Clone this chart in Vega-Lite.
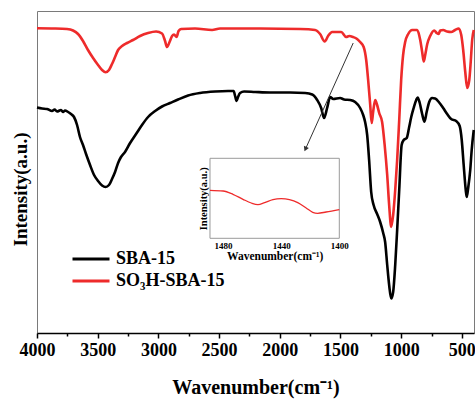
{
  "$schema": "https://vega.github.io/schema/vega-lite/v6.json",
  "width": 437,
  "height": 322,
  "autosize": "none",
  "padding": {"left": 37, "top": 11, "right": 1, "bottom": 67},
  "background": "white",
  "config": {
    "view": {"stroke": "#7a7a7a", "strokeWidth": 1},
    "font": "Liberation Serif",
    "axis": {"grid": false, "labelFont": "Liberation Serif", "titleFont": "Liberation Serif", "labelFontWeight": "bold", "titleFontWeight": "bold", "labelColor": "#000", "titleColor": "#000"},
    "legend": {"labelFont": "Liberation Serif"}
  },
  "datasets": {
    "spectra": [
      {"w":4000,"v":304.7,"s":"SO₃H-SBA-15"},{"w":3852,"v":304.5,"s":"SO₃H-SBA-15"},{"w":3753,"v":304,"s":"SO₃H-SBA-15"},{"w":3703,"v":302.5,"s":"SO₃H-SBA-15"},{"w":3662,"v":299,"s":"SO₃H-SBA-15"},{"w":3621,"v":292,"s":"SO₃H-SBA-15"},{"w":3580,"v":283,"s":"SO₃H-SBA-15"},{"w":3538,"v":275,"s":"SO₃H-SBA-15"},{"w":3497,"v":268,"s":"SO₃H-SBA-15"},{"w":3464,"v":263,"s":"SO₃H-SBA-15"},{"w":3435,"v":260.7,"s":"SO₃H-SBA-15"},{"w":3407,"v":263,"s":"SO₃H-SBA-15"},{"w":3382,"v":269,"s":"SO₃H-SBA-15"},{"w":3357,"v":276,"s":"SO₃H-SBA-15"},{"w":3332,"v":283,"s":"SO₃H-SBA-15"},{"w":3299,"v":287,"s":"SO₃H-SBA-15"},{"w":3258,"v":290,"s":"SO₃H-SBA-15"},{"w":3209,"v":293,"s":"SO₃H-SBA-15"},{"w":3151,"v":297,"s":"SO₃H-SBA-15"},{"w":3085,"v":300,"s":"SO₃H-SBA-15"},{"w":3019,"v":301.5,"s":"SO₃H-SBA-15"},{"w":2970,"v":299.5,"s":"SO₃H-SBA-15"},{"w":2945,"v":292,"s":"SO₃H-SBA-15"},{"w":2929,"v":286,"s":"SO₃H-SBA-15"},{"w":2908,"v":291,"s":"SO₃H-SBA-15"},{"w":2887,"v":297,"s":"SO₃H-SBA-15"},{"w":2871,"v":298.5,"s":"SO₃H-SBA-15"},{"w":2850,"v":296,"s":"SO₃H-SBA-15"},{"w":2834,"v":302,"s":"SO₃H-SBA-15"},{"w":2813,"v":304,"s":"SO₃H-SBA-15"},{"w":2698,"v":304.5,"s":"SO₃H-SBA-15"},{"w":2558,"v":303,"s":"SO₃H-SBA-15"},{"w":2492,"v":304.5,"s":"SO₃H-SBA-15"},{"w":2162,"v":304.5,"s":"SO₃H-SBA-15"},{"w":1832,"v":304,"s":"SO₃H-SBA-15"},{"w":1709,"v":303,"s":"SO₃H-SBA-15"},{"w":1668,"v":299,"s":"SO₃H-SBA-15"},{"w":1630,"v":291.5,"s":"SO₃H-SBA-15"},{"w":1602,"v":297,"s":"SO₃H-SBA-15"},{"w":1569,"v":301,"s":"SO₃H-SBA-15"},{"w":1494,"v":301,"s":"SO₃H-SBA-15"},{"w":1453,"v":296,"s":"SO₃H-SBA-15"},{"w":1428,"v":297,"s":"SO₃H-SBA-15"},{"w":1396,"v":296,"s":"SO₃H-SBA-15"},{"w":1363,"v":294,"s":"SO₃H-SBA-15"},{"w":1338,"v":291,"s":"SO₃H-SBA-15"},{"w":1309,"v":286,"s":"SO₃H-SBA-15"},{"w":1288,"v":273,"s":"SO₃H-SBA-15"},{"w":1272,"v":253,"s":"SO₃H-SBA-15"},{"w":1255,"v":228,"s":"SO₃H-SBA-15"},{"w":1243,"v":210,"s":"SO₃H-SBA-15"},{"w":1231,"v":221,"s":"SO₃H-SBA-15"},{"w":1214,"v":233,"s":"SO₃H-SBA-15"},{"w":1198,"v":228,"s":"SO₃H-SBA-15"},{"w":1181,"v":220,"s":"SO₃H-SBA-15"},{"w":1157,"v":211,"s":"SO₃H-SBA-15"},{"w":1136,"v":188,"s":"SO₃H-SBA-15"},{"w":1115,"v":158,"s":"SO₃H-SBA-15"},{"w":1099,"v":128,"s":"SO₃H-SBA-15"},{"w":1082,"v":106,"s":"SO₃H-SBA-15"},{"w":1066,"v":118,"s":"SO₃H-SBA-15"},{"w":1049,"v":143,"s":"SO₃H-SBA-15"},{"w":1033,"v":173,"s":"SO₃H-SBA-15"},{"w":1016,"v":213,"s":"SO₃H-SBA-15"},{"w":1000,"v":253,"s":"SO₃H-SBA-15"},{"w":984,"v":278,"s":"SO₃H-SBA-15"},{"w":967,"v":291,"s":"SO₃H-SBA-15"},{"w":942,"v":299,"s":"SO₃H-SBA-15"},{"w":909,"v":303,"s":"SO₃H-SBA-15"},{"w":868,"v":303,"s":"SO₃H-SBA-15"},{"w":843,"v":293,"s":"SO₃H-SBA-15"},{"w":827,"v":281,"s":"SO₃H-SBA-15"},{"w":814,"v":271.5,"s":"SO₃H-SBA-15"},{"w":802,"v":278,"s":"SO₃H-SBA-15"},{"w":785,"v":289,"s":"SO₃H-SBA-15"},{"w":761,"v":297,"s":"SO₃H-SBA-15"},{"w":728,"v":302.5,"s":"SO₃H-SBA-15"},{"w":707,"v":300,"s":"SO₃H-SBA-15"},{"w":692,"v":299,"s":"SO₃H-SBA-15"},{"w":678,"v":302.5,"s":"SO₃H-SBA-15"},{"w":654,"v":303,"s":"SO₃H-SBA-15"},{"w":621,"v":301.5,"s":"SO₃H-SBA-15"},{"w":588,"v":301,"s":"SO₃H-SBA-15"},{"w":555,"v":303,"s":"SO₃H-SBA-15"},{"w":526,"v":304.5,"s":"SO₃H-SBA-15"},{"w":505,"v":298,"s":"SO₃H-SBA-15"},{"w":489,"v":283,"s":"SO₃H-SBA-15"},{"w":472,"v":261,"s":"SO₃H-SBA-15"},{"w":456,"v":245,"s":"SO₃H-SBA-15"},{"w":439,"v":253,"s":"SO₃H-SBA-15"},{"w":427,"v":271,"s":"SO₃H-SBA-15"},{"w":415,"v":293,"s":"SO₃H-SBA-15"},{"w":402,"v":303,"s":"SO₃H-SBA-15"},
      {"w":4000,"v":225.5,"s":"SBA-15"},{"w":3959,"v":224.5,"s":"SBA-15"},{"w":3918,"v":224,"s":"SBA-15"},{"w":3876,"v":222,"s":"SBA-15"},{"w":3855,"v":223.5,"s":"SBA-15"},{"w":3835,"v":221.5,"s":"SBA-15"},{"w":3802,"v":223,"s":"SBA-15"},{"w":3785,"v":221,"s":"SBA-15"},{"w":3769,"v":222.5,"s":"SBA-15"},{"w":3744,"v":221,"s":"SBA-15"},{"w":3720,"v":219,"s":"SBA-15"},{"w":3695,"v":216,"s":"SBA-15"},{"w":3670,"v":208,"s":"SBA-15"},{"w":3646,"v":196,"s":"SBA-15"},{"w":3621,"v":188,"s":"SBA-15"},{"w":3596,"v":179,"s":"SBA-15"},{"w":3563,"v":168,"s":"SBA-15"},{"w":3530,"v":158,"s":"SBA-15"},{"w":3497,"v":152,"s":"SBA-15"},{"w":3464,"v":147.5,"s":"SBA-15"},{"w":3435,"v":146,"s":"SBA-15"},{"w":3407,"v":148,"s":"SBA-15"},{"w":3382,"v":154,"s":"SBA-15"},{"w":3357,"v":161,"s":"SBA-15"},{"w":3332,"v":170,"s":"SBA-15"},{"w":3308,"v":176,"s":"SBA-15"},{"w":3275,"v":181,"s":"SBA-15"},{"w":3233,"v":190,"s":"SBA-15"},{"w":3184,"v":199,"s":"SBA-15"},{"w":3135,"v":208,"s":"SBA-15"},{"w":3085,"v":216,"s":"SBA-15"},{"w":3027,"v":222,"s":"SBA-15"},{"w":2970,"v":226.5,"s":"SBA-15"},{"w":2904,"v":230,"s":"SBA-15"},{"w":2838,"v":233.5,"s":"SBA-15"},{"w":2755,"v":237.5,"s":"SBA-15"},{"w":2657,"v":240,"s":"SBA-15"},{"w":2533,"v":241.5,"s":"SBA-15"},{"w":2426,"v":242,"s":"SBA-15"},{"w":2380,"v":242,"s":"SBA-15"},{"w":2368,"v":237,"s":"SBA-15"},{"w":2356,"v":232,"s":"SBA-15"},{"w":2344,"v":236,"s":"SBA-15"},{"w":2327,"v":240,"s":"SBA-15"},{"w":2294,"v":241.5,"s":"SBA-15"},{"w":2203,"v":241,"s":"SBA-15"},{"w":2080,"v":240.5,"s":"SBA-15"},{"w":1915,"v":240.5,"s":"SBA-15"},{"w":1791,"v":240,"s":"SBA-15"},{"w":1733,"v":238.5,"s":"SBA-15"},{"w":1692,"v":233,"s":"SBA-15"},{"w":1659,"v":225,"s":"SBA-15"},{"w":1635,"v":215,"s":"SBA-15"},{"w":1610,"v":225,"s":"SBA-15"},{"w":1585,"v":236,"s":"SBA-15"},{"w":1560,"v":234,"s":"SBA-15"},{"w":1503,"v":235,"s":"SBA-15"},{"w":1470,"v":233.5,"s":"SBA-15"},{"w":1420,"v":233,"s":"SBA-15"},{"w":1379,"v":231,"s":"SBA-15"},{"w":1338,"v":225,"s":"SBA-15"},{"w":1313,"v":218,"s":"SBA-15"},{"w":1297,"v":211,"s":"SBA-15"},{"w":1280,"v":198,"s":"SBA-15"},{"w":1264,"v":173,"s":"SBA-15"},{"w":1247,"v":141,"s":"SBA-15"},{"w":1227,"v":128,"s":"SBA-15"},{"w":1198,"v":119,"s":"SBA-15"},{"w":1173,"v":111,"s":"SBA-15"},{"w":1148,"v":100,"s":"SBA-15"},{"w":1132,"v":91,"s":"SBA-15"},{"w":1115,"v":68,"s":"SBA-15"},{"w":1099,"v":48,"s":"SBA-15"},{"w":1082,"v":34.5,"s":"SBA-15"},{"w":1066,"v":41,"s":"SBA-15"},{"w":1049,"v":68,"s":"SBA-15"},{"w":1033,"v":103,"s":"SBA-15"},{"w":1016,"v":143,"s":"SBA-15"},{"w":996,"v":188,"s":"SBA-15"},{"w":979,"v":193,"s":"SBA-15"},{"w":954,"v":195,"s":"SBA-15"},{"w":934,"v":206,"s":"SBA-15"},{"w":917,"v":216,"s":"SBA-15"},{"w":897,"v":225,"s":"SBA-15"},{"w":876,"v":233,"s":"SBA-15"},{"w":864,"v":235.5,"s":"SBA-15"},{"w":847,"v":230,"s":"SBA-15"},{"w":827,"v":219,"s":"SBA-15"},{"w":808,"v":211.3,"s":"SBA-15"},{"w":790,"v":221,"s":"SBA-15"},{"w":769,"v":231,"s":"SBA-15"},{"w":745,"v":235,"s":"SBA-15"},{"w":720,"v":234.5,"s":"SBA-15"},{"w":687,"v":230.5,"s":"SBA-15"},{"w":654,"v":225,"s":"SBA-15"},{"w":621,"v":219,"s":"SBA-15"},{"w":588,"v":214,"s":"SBA-15"},{"w":547,"v":212,"s":"SBA-15"},{"w":518,"v":207,"s":"SBA-15"},{"w":501,"v":193,"s":"SBA-15"},{"w":485,"v":168,"s":"SBA-15"},{"w":468,"v":143,"s":"SBA-15"},{"w":460,"v":136,"s":"SBA-15"},{"w":448,"v":145,"s":"SBA-15"},{"w":431,"v":163,"s":"SBA-15"},{"w":419,"v":183,"s":"SBA-15"},{"w":402,"v":203,"s":"SBA-15"}
    ],
    "arrow": [{"w":1395,"v":290,"w2":1786,"v2":184.6}],
    "minor": [{"w":3750},{"w":3250},{"w":2750},{"w":2250},{"w":1750},{"w":1250},{"w":750}],
    "inset": [
      {"w":1489,"v":48},{"w":1480,"v":47.3},{"w":1473.2,"v":44},{"w":1466.3,"v":39},{"w":1460.6,"v":35.3},{"w":1456,"v":33.7},{"w":1451.4,"v":35.7},{"w":1445.7,"v":38.7},{"w":1440,"v":39.7},{"w":1434.3,"v":38.7},{"w":1428.6,"v":35.7},{"w":1422.8,"v":30.3},{"w":1418.3,"v":26},{"w":1414.9,"v":25},{"w":1409.1,"v":26.3},{"w":1400,"v":28.7}
    ],
    "insetBox": [{"w":1400,"w2":1489,"v":0,"v2":80}]
  },
  "layer": [
    {
      "layer": [
        {
          "data": {"name": "spectra"},
          "mark": {"type": "line", "strokeWidth": 2.6, "interpolate": "monotone"},
          "encoding": {
            "x": {"field": "w", "type": "quantitative", "scale": {"domain": [400, 4000], "reverse": true, "nice": false, "zero": false},
              "axis": {"orient": "bottom", "values": [4000,3500,3000,2500,2000,1500,1000,500], "format": "d", "labelFontSize": 18, "labelPadding": 3, "labelOverlap": false, "labelFlush": false, "tickSize": 5, "tickWidth": 1.5, "tickColor": "#000", "domainColor": "#000", "domainWidth": 1.5, "title": "Wavenumber(cm⁻¹)", "titleFontSize": 20, "titlePadding": 18}},
            "y": {"field": "v", "type": "quantitative", "scale": {"domain": [0, 322], "nice": false},
              "axis": {"orient": "left", "domain": false, "ticks": false, "labels": false, "title": "Intensity(a.u.)", "titleFontSize": 19, "titlePadding": 7, "titleY": 178}},
            "color": {"field": "s", "type": "nominal", "scale": {"domain": ["SBA-15", "SO₃H-SBA-15"], "range": ["#000000", "#ee2b2b"]},
              "legend": {"orient": "none", "legendX": 34, "legendY": 237, "title": null, "symbolType": "stroke", "symbolSize": 1369, "symbolStrokeWidth": 3, "labelFontSize": 18, "labelFontWeight": "bold", "labelColor": "#000", "labelOffset": 5, "clipHeight": 22, "rowPadding": 0}}
          }
        },
        {
          "data": {"name": "minor"},
          "mark": {"type": "rule", "opacity": 0},
          "encoding": {
            "x": {"field": "w", "type": "quantitative", "axis": {"orient": "bottom", "values": [3750,3250,2750,2250,1750,1250,750], "labels": false, "domain": false, "tickSize": 3, "tickWidth": 1.5, "tickColor": "#000", "title": null}}
          }
        },
        {
          "data": {"name": "arrow"},
          "mark": {"type": "rule", "color": "#333", "strokeWidth": 1},
          "encoding": {
            "x": {"field": "w", "type": "quantitative", "axis": null},
            "y": {"field": "v", "type": "quantitative"},
            "x2": {"field": "w2"},
            "y2": {"field": "v2"}
          }
        },
        {
          "data": {"name": "arrow"},
          "mark": {"type": "point", "shape": "triangle", "filled": true, "color": "#333", "size": 30, "angle": 204, "opacity": 1},
          "encoding": {
            "x": {"field": "w2", "type": "quantitative", "axis": null},
            "y": {"field": "v2", "type": "quantitative"}
          }
        }
      ],
      "resolve": {"axis": {"x": "independent"}}
    },
    {
      "layer": [
        {
          "data": {"name": "insetBox"},
          "mark": {"type": "rect", "fill": "white", "stroke": "#9a9a9a", "strokeWidth": 1},
          "encoding": {
            "x": {"field": "w", "type": "quantitative", "scale": {"domain": [1400, 1489], "range": [302.3, 173], "nice": false, "zero": false},
              "axis": {"orient": "bottom", "offset": -95, "values": [1480, 1440, 1400], "format": "d", "domain": false, "ticks": false, "labelFontSize": 9, "labelPadding": 3, "labelFlush": false, "labelOverlap": false, "title": "Wavenumber(cm⁻¹)", "titleFontSize": 11.5, "titlePadding": 0}},
            "x2": {"field": "w2"},
            "y": {"field": "v", "type": "quantitative", "scale": {"domain": [0, 80], "range": [227.3, 147.3], "nice": false},
              "axis": {"orient": "left", "offset": -173, "domain": false, "ticks": false, "labels": false, "title": "Intensity(a.u.)", "titleFontSize": 10.5, "titlePadding": 2}},
            "y2": {"field": "v2"}
          }
        },
        {
          "data": {"name": "inset"},
          "mark": {"type": "line", "color": "#ee2b2b", "strokeWidth": 1.3, "interpolate": "monotone"},
          "encoding": {
            "x": {"field": "w", "type": "quantitative"},
            "y": {"field": "v", "type": "quantitative"}
          }
        }
      ]
    }
  ],
  "resolve": {"scale": {"x": "independent", "y": "independent"}, "axis": {"x": "independent", "y": "independent"}}
}
